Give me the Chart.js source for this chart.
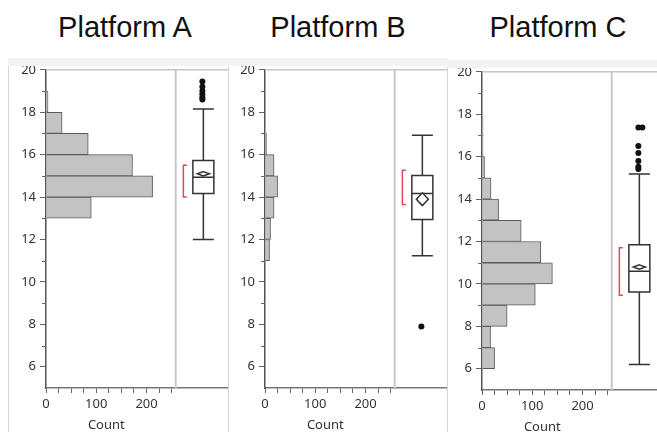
<!DOCTYPE html>
<html>
<head>
<meta charset="utf-8">
<script src="https://cdn.jsdelivr.net/npm/chart.js@4/dist/chart.umd.min.js"></script>
<style>
  html, body { margin: 0; padding: 0; background: #fff; overflow: hidden; }
  body { width: 657px; height: 432px; position: relative; }
  .ttl { position: absolute; top: 13px; font-family: "Liberation Sans", Arial, sans-serif; font-size: 29px; line-height: 29px; color: #111; transform: translateX(-50%); white-space: nowrap; }
  canvas { position: absolute; }
</style>
</head>
<body>
<div class="ttl" style="left:125px">Platform A</div>
<div class="ttl" style="left:338px">Platform B</div>
<div class="ttl" style="left:558px">Platform C</div>
<canvas id="cA" width="221" height="374" style="left:8px;top:58px"></canvas>
<canvas id="cB" width="221" height="374" style="left:227px;top:58px"></canvas>
<canvas id="cC" width="221" height="374" style="left:444px;top:60px"></canvas>
<script>
// histogram bins (lower edge, width 1) and counts
const binsA = [12, 13, 14, 15, 16, 17, 18, 19];
const countsA = [1, 90, 212, 172, 84, 32, 4, 1];
const binsB = [11, 12, 13, 14, 15, 16];
const countsB = [9, 11, 18, 25, 18, 3];
const binsC = [6, 7, 8, 9, 10, 11, 12, 13, 14, 15, 16, 17];
const countsC = [25, 17, 50, 106, 140, 117, 78, 33, 18, 5, 2, 2];

// box plots: low whisker, q1, median, q3, high whisker
const boxA = [12.0, 14.17, 14.93, 15.73, 18.15];
const boxB = [11.23, 12.94, 14.17, 15.02, 16.92];
const boxC = [6.2, 9.62, 10.6, 11.85, 15.18];
// mean and its confidence half width (means diamond)
const meanA = [15.1, 0.1];
const meanB = [13.9, 0.3];
const meanC = [10.8, 0.1];
const outliersA = [18.6, 18.7, 18.85, 19.0, 19.2, 19.45];
const outliersB = [7.9];
const outliersC = [15.42, 15.52, 15.8, 16.17, 16.5, 17.38, 17.38];
// shortest half bracket
const shortA = [14.0, 15.5];
const shortB = [13.65, 15.26];
const shortC = [9.47, 11.7];

const yTicks = [6, 8, 10, 12, 14, 16, 18, 20];
const xTicks = [0, 100, 200];

const countMax = 364;   // x range incl. box area
const histEnd = 258;    // divider between histogram and box plot
const boxPos = 313;     // box plot centre, in count units

const boxPanel = {
  id: 'boxPanel',
  afterDraw(chart, args, o) {
    const ctx = chart.ctx, a = chart.chartArea;
    const xs = chart.scales.x, ys = chart.scales.y;
    const W = chart.width, H = chart.height;
    ctx.save();
    // frame
    ctx.fillStyle = '#f3f3f3';
    ctx.fillRect(0, 0, W, 8);
    ctx.strokeStyle = '#c6c6c6';
    ctx.lineWidth = 1.5;
    ctx.beginPath();
    ctx.moveTo(a.left, a.top); ctx.lineTo(a.right, a.top);
    ctx.stroke();
    ctx.strokeStyle = '#d4d4d4';
    ctx.lineWidth = 1;
    ctx.beginPath();
    ctx.moveTo(W - 0.5, 8); ctx.lineTo(W - 0.5, H);
    if (o.leftEdge) { ctx.moveTo(0.5, 8); ctx.lineTo(0.5, H); }
    ctx.stroke();
    const dx = xs.getPixelForValue(histEnd);
    ctx.strokeStyle = '#c8c8c8';
    ctx.lineWidth = 2;
    ctx.beginPath();
    ctx.moveTo(dx, a.top); ctx.lineTo(dx, a.bottom);
    ctx.stroke();
    // minor y ticks
    ctx.strokeStyle = '#666';
    ctx.lineWidth = 1;
    ctx.beginPath();
    ys.ticks.forEach(t => {
      if (!yTicks.includes(t.value) && t.value > ys.min) {
        const y = Math.round(ys.getPixelForValue(t.value)) + 0.5;
        ctx.moveTo(a.left - 4, y); ctx.lineTo(a.left, y);
      }
    });
    ctx.stroke();
    // axis title
    ctx.fillStyle = '#333';
    ctx.font = '13px "Noto Sans"';
    ctx.textAlign = 'center';
    ctx.textBaseline = 'middle';
    ctx.fillText('Count', xs.getPixelForValue(120), a.bottom + 37);

    // box plot
    const cx = xs.getPixelForValue(boxPos), hw = 10.5;
    const b = o.box.map(v => ys.getPixelForValue(v));
    ctx.strokeStyle = '#333';
    ctx.lineWidth = 1.5;
    ctx.beginPath();
    ctx.moveTo(cx, b[0]); ctx.lineTo(cx, b[1]);
    ctx.moveTo(cx, b[3]); ctx.lineTo(cx, b[4]);
    ctx.moveTo(cx - hw, b[0]); ctx.lineTo(cx + hw, b[0]);
    ctx.moveTo(cx - hw, b[4]); ctx.lineTo(cx + hw, b[4]);
    ctx.moveTo(cx - hw, b[2]); ctx.lineTo(cx + hw, b[2]);
    ctx.rect(cx - hw, b[3], hw * 2, b[1] - b[3]);
    ctx.stroke();
    // means diamond
    const my = ys.getPixelForValue(o.mean[0]);
    const mh = Math.abs(ys.getPixelForValue(o.mean[0] + o.mean[1]) - my);
    ctx.fillStyle = '#fff';
    ctx.beginPath();
    ctx.moveTo(cx, my - mh); ctx.lineTo(cx + 6, my);
    ctx.lineTo(cx, my + mh); ctx.lineTo(cx - 6, my);
    ctx.closePath();
    ctx.fill();
    ctx.stroke();
    // outliers
    ctx.fillStyle = '#111';
    const seen = {};
    o.outliers.forEach(v => {
      const k = v.toFixed(2);
      const off = seen[k] ? 4 : 0;
      seen[k] = true;
      ctx.beginPath();
      ctx.arc(cx - 1 + off, ys.getPixelForValue(v), 3, 0, Math.PI * 2);
      ctx.fill();
    });
    // shortest half bracket
    const bx = cx - hw - 9.5;
    const s0 = ys.getPixelForValue(o.short[0]), s1 = ys.getPixelForValue(o.short[1]);
    ctx.strokeStyle = '#e5465a';
    ctx.lineWidth = 1.5;
    ctx.beginPath();
    ctx.moveTo(bx + 3.5, s1); ctx.lineTo(bx, s1); ctx.lineTo(bx, s0); ctx.lineTo(bx + 3.5, s0);
    ctx.stroke();
    ctx.restore();
  }
};

const makeChart = (id, bins, counts, box, mean, outliers, short, leftEdge) => {
  const data = bins.map((b, i) => ({ x: counts[i], y: b + 0.5 }));
  return new Chart(document.getElementById(id), {
    type: 'bar',
    data: {
      datasets: [{
        data: data,
        backgroundColor: '#c3c3c3',
        borderColor: '#5a5a5a',
        borderWidth: 1,
        borderSkipped: 'start',
        barPercentage: 1,
        categoryPercentage: 1
      }]
    },
    options: {
      indexAxis: 'y',
      responsive: false,
      animation: false,
      devicePixelRatio: 1,
      layout: { padding: { top: 11, left: 0, right: 0, bottom: 0 }, autoPadding: false },
      plugins: {
        legend: { display: false },
        tooltip: { enabled: false },
        boxPanel: { box, mean, outliers, short, leftEdge }
      },
      scales: {
        x: {
          type: 'linear', min: 0, max: countMax, position: 'bottom',
          afterBuildTicks: s => { s.ticks = s.ticks.filter(t => t.value <= 250); },
          afterFit: s => { s.height = 44; },
          ticks: {
            stepSize: 25, autoSkip: false, maxRotation: 0, padding: 3,
            color: '#333', font: { family: 'Noto Sans', size: 13 },
            callback: v => xTicks.includes(v) ? v : ''
          },
          grid: { drawOnChartArea: false, tickLength: 5, color: '#666' },
          border: { color: '#777', width: 1.5 }
        },
        y: {
          type: 'linear', min: 5, max: 20, offset: false, position: 'left',
          afterFit: s => { s.width = 38; },
          ticks: {
            stepSize: 1, autoSkip: false, padding: 4,
            color: '#333', font: { family: 'Noto Sans', size: 13 },
            callback: v => yTicks.includes(v) ? v : ''
          },
          grid: {
            drawOnChartArea: false, offset: false, tickLength: 6,
            tickColor: c => (c.tick && yTicks.includes(c.tick.value)) ? '#666' : 'rgba(0,0,0,0)'
          },
          border: { color: '#555', width: 1.5 }
        }
      }
    },
    plugins: [boxPanel]
  });
};

makeChart('cA', binsA, countsA, boxA, meanA, outliersA, shortA, true);
makeChart('cB', binsB, countsB, boxB, meanB, outliersB, shortB, false);
makeChart('cC', binsC, countsC, boxC, meanC, outliersC, shortC, false);
</script>
</body>
</html>
